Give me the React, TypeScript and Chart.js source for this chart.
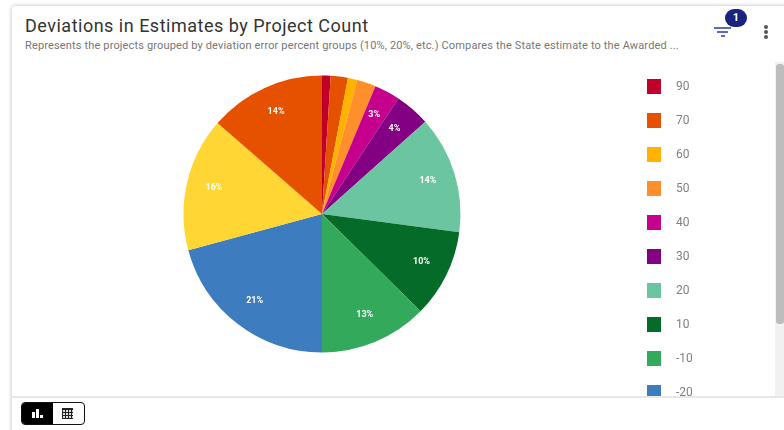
import React, { useEffect, useRef } from "react";
import { Chart, registerables } from "chart.js";

Chart.register(...registerables);

const categories = ["90", "70", "60", "50", "40", "30", "20", "10", "-10", "-20", "-30", "-40"];
const shares = [1, 2, 1.1, 2.2, 3, 4.1, 13.7, 10.3, 12.6, 20.8, 15.6, 13.6];
const colors = ["#C0002A", "#E65100", "#FFB300", "#FF8F2B", "#C4008C", "#830083", "#6CC5A1", "#056B28", "#33A95B", "#3D7DBF", "#FFD633", "#E65100"];
const labelFloor = 2.9;

const layoutPlugin = {
  id: "placeParts",
  afterLayout(chart: any) {
    const a = chart.chartArea;
    a.left = 171.5; a.right = 448.5; a.top = 16.5; a.bottom = 293.5;
    a.width = 277; a.height = 277;
    const lg = chart.legend;
    const w = lg.width;
    lg.left = 616; lg.right = 616 + w; lg.top = 1;
  },
};

const percentPlugin = {
  id: "percentLabels",
  afterDatasetsDraw(chart: any) {
    const { ctx } = chart;
    const arcs = chart.getDatasetMeta(0).data;
    const values = chart.data.datasets[0].data as number[];
    const total = values.reduce((s, v) => s + v, 0);
    ctx.save();
    ctx.font = "bold 9px Roboto";
    ctx.fillStyle = "#fff";
    ctx.textAlign = "center";
    ctx.textBaseline = "middle";
    arcs.forEach((arc: any, i: number) => {
      const pct = (values[i] / total) * 100;
      if (pct < labelFloor) return;
      const mid = (arc.startAngle + arc.endAngle) / 2;
      const r = arc.outerRadius * 0.8;
      ctx.fillText(`${Math.round(pct)}%`, arc.x + Math.cos(mid) * r, arc.y + Math.sin(mid) * r - 1);
    });
    ctx.restore();
  },
};

const abs = (left: number, top: number, width: number, height: number, extra: React.CSSProperties = {}): React.CSSProperties => ({
  position: "absolute", left, top, width, height, ...extra,
});

export default function App() {
  const ref = useRef<HTMLCanvasElement>(null);
  useEffect(() => {
    const chart = new Chart(ref.current!, {
      type: "pie",
      data: {
        labels: categories,
        datasets: [{ data: shares, backgroundColor: colors, borderWidth: 0 }],
      },
      options: {
        animation: false,
        responsive: false,
        events: [],
        plugins: {
          tooltip: { enabled: false },
          legend: {
            position: "right",
            align: "start",
            labels: {
              boxWidth: 14,
              boxHeight: 15,
              padding: 19,
              font: { family: "Roboto", size: 12 },
              generateLabels: (c: any) =>
                c.data.labels.map((t: string, i: number) => ({
                  text: `   ${t}`,
                  fillStyle: colors[i],
                  strokeStyle: colors[i],
                  fontColor: "#808080",
                  lineWidth: 0,
                  index: i,
                })),
            },
          },
        },
      } as any,
      plugins: [layoutPlugin, percentPlugin] as any,
    });
    return () => chart.destroy();
  }, []);

  return (
    <div style={{ position: "fixed", left: 0, top: 0, width: 784, height: 430, background: "#fff", overflow: "hidden", fontFamily: "Roboto", filter: "blur(0.35px)" }}>
      <div style={abs(12, 6, 790, 440, { background: "#fff", boxShadow: "0 0 4px rgba(0,0,0,0.28)", borderRadius: 3 })} />
      <div style={abs(25, 14, 600, 24, { fontSize: 18, fontWeight: 400, letterSpacing: 0.5, color: "#333", lineHeight: "24px", whiteSpace: "nowrap" })}>
        Deviations in Estimates by Project Count
      </div>
      <div style={abs(25, 39, 680, 14, { fontSize: 11, letterSpacing: 0.15, color: "#777", lineHeight: "14px", whiteSpace: "nowrap" })}>
        Represents the projects grouped by deviation error percent groups (10%, 20%, etc.) Compares the State estimate to the Awarded ...
      </div>

      {/* filter icon and badge */}
      <div style={abs(714, 27, 17, 2, { background: "#5c6bc0" })} />
      <div style={abs(717, 31, 11, 2, { background: "#5c6bc0" })} />
      <div style={abs(721, 35, 4, 2, { background: "#5c6bc0" })} />
      <div style={abs(725, 9, 22, 18, { background: "#1a237e", borderRadius: 9, color: "#fff", fontSize: 11, fontWeight: 700, textAlign: "center", lineHeight: "18px" })}>1</div>
      {[27, 32, 37].map((y) => (
        <div key={y} style={abs(764, y - 2, 4, 4, { background: "#555", borderRadius: 2 })} />
      ))}

      {/* chart, clipped by the scrolling panel */}
      <div style={abs(12, 59, 763, 338, { overflow: "hidden" })}>
        <canvas ref={ref} width={763} height={460} style={{ display: "block", width: 763, height: 460 }} />
      </div>

      {/* scrollbar */}
      <div style={abs(775, 62, 9, 335, { background: "#f1f1f1" })} />
      <div style={abs(776, 64, 8, 260, { background: "#bdbdbd", borderRadius: 3 })} />

      {/* footer */}
      <div style={abs(12, 396, 772, 2, { background: "#e8e8e8" })} />
      <div style={abs(21, 402, 64, 23, { boxSizing: "border-box", border: "1px solid #111", borderRadius: 4, overflow: "hidden", background: "#fff" })}>
        <div style={abs(0, 0, 31, 21, { background: "#000" })} />
        <div style={abs(10, 9, 2.5, 6, { background: "#fff" })} />
        <div style={abs(14, 6, 2.5, 9, { background: "#fff" })} />
        <div style={abs(18, 12, 2.5, 3, { background: "#fff" })} />
        <div style={abs(40, 5, 11, 11, {
          backgroundColor: "#ddd",
          backgroundImage: "repeating-linear-gradient(0deg,#222 0 1px,transparent 1px 3px),repeating-linear-gradient(90deg,#222 0 1px,transparent 1px 3px)",
          borderTop: "2px solid #222",
          boxSizing: "border-box",
        })} />
      </div>
    </div>
  );
}
